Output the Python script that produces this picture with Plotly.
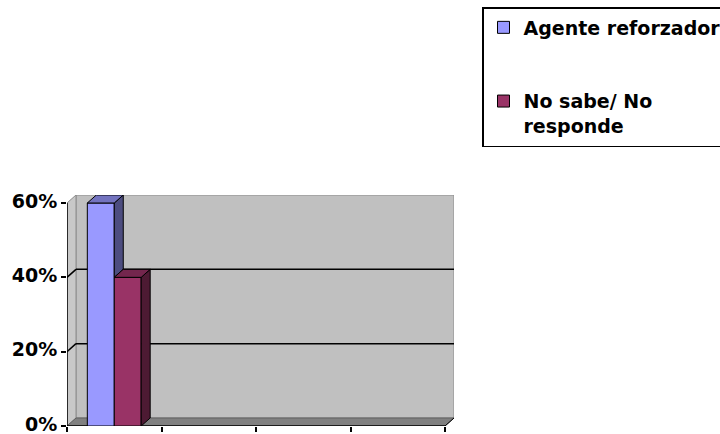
import plotly.graph_objects as go

# ---- data -------------------------------------------------------------
categories = ["Grupo 1", "Grupo 2", "Grupo 3", "Grupo 4"]
series_names = ["Agente reforzador", "No sabe/ No<br>responde"]
agente_reforzador = [0.60, None, None, None]
no_sabe_no_responde = [0.40, None, None, None]
y_tick_values = [0, 0.2, 0.4, 0.6]
y_tick_labels = ["0%", "20%", "40%", "60%"]

series_values = [agente_reforzador, no_sabe_no_responde]
front_colors = ["#9999FF", "#993366"]
top_colors = ["#7373BF", "#73264D"]
side_colors = ["#4D4D80", "#4D1A33"]

# ---- geometry of the pseudo-3D frame (pixels) -------------------------
W, H = 720, 434
LEFT = 67            # front y axis
FRONT_RIGHT = 445    # end of front x axis
BOTTOM = 426         # 0 %
FRONT_TOP = 203      # top tick on the front axis
DEPTH_X, DEPTH_Y = 9, 8
BARGAP = 0.43

n_cat = len(categories)
y_max = max(y_tick_values)
px_per_x = (FRONT_RIGHT - LEFT) / n_cat
px_per_y = (BOTTOM - FRONT_TOP) / y_max
dx = DEPTH_X / px_per_x
dy = DEPTH_Y / px_per_y

plot_w = FRONT_RIGHT - LEFT + DEPTH_X
plot_h = BOTTOM - FRONT_TOP + DEPTH_Y
m_l, m_t = LEFT, FRONT_TOP - DEPTH_Y
m_r = W - m_l - plot_w
m_b = H - m_t - plot_h

x_pos = [i + 0.5 for i in range(n_cat)]

fig = go.Figure()
for s, (name, vals) in enumerate(zip(series_names, series_values)):
    fig.add_trace(go.Bar(
        x=x_pos, y=vals, name=name, legendgroup=f"g{s}",
        marker=dict(color=front_colors[s], line=dict(color="black", width=1)),
        hoverinfo="skip",
    ))

shapes = []


def poly(pts, fill, line_color="black", width=1, layer="above"):
    d = "M " + " L ".join(f"{x},{y}" for x, y in pts) + " Z"
    return dict(type="path", path=d, xref="x", yref="y", fillcolor=fill,
                line=dict(color=line_color, width=width), layer=layer)


def seg(x0, y0, x1, y1, color="black", width=1.5, layer="below"):
    return dict(type="line", x0=x0, y0=y0, x1=x1, y1=y1, xref="x", yref="y",
                line=dict(color=color, width=width), layer=layer)


# walls and floor
shapes.append(poly([(dx, dy), (n_cat + dx, dy), (n_cat + dx, y_max + dy), (dx, y_max + dy)],
                   "#C0C0C0", "#8C8C8C", 1, "below"))
shapes.append(poly([(0, 0), (dx, dy), (dx, y_max + dy), (0, y_max)],
                   "#C8C8C8", "#8C8C8C", 1, "below"))
shapes.append(poly([(0, 0), (n_cat, 0), (n_cat + dx, dy), (dx, dy)],
                   "#808080", "#606060", 1, "below"))

# gridlines on back and side walls
for t in y_tick_values[1:-1]:
    shapes.append(seg(dx, t + dy, n_cat + dx, t + dy))
    shapes.append(seg(0, t, dx, t + dy))

# front axis edges
shapes.append(seg(0, 0, 0, y_max))
shapes.append(seg(0, 0, n_cat, 0))
shapes.append(seg(n_cat, 0, n_cat + dx, dy, width=1))

# top and side faces of the bars
group_w = 1 - BARGAP
n_ser = len(series_values)
bar_w = group_w / n_ser
for i in range(n_cat):
    for s in range(n_ser):
        v = series_values[s][i]
        if v is None:
            continue
        left = x_pos[i] - group_w / 2 + s * bar_w
        right = left + bar_w
        nxt = series_values[s + 1][i] if s + 1 < n_ser else None
        base = nxt if nxt is not None else 0
        if base < v:
            shapes.append(poly([(right, base), (right + dx, base + dy),
                                (right + dx, v + dy), (right, v)], side_colors[s]))
        shapes.append(poly([(left, v), (right, v), (right + dx, v + dy),
                            (left + dx, v + dy)], top_colors[s]))

font = dict(family="DejaVu Sans", size=19, color="black", weight="bold")

fig.update_layout(
    width=W, height=H,
    margin=dict(l=m_l, r=m_r, t=m_t, b=m_b, autoexpand=False),
    paper_bgcolor="white", plot_bgcolor="rgba(0,0,0,0)",
    barmode="group", bargap=BARGAP, bargroupgap=0,
    shapes=shapes,
    font=font,
    showlegend=True,
    legend=dict(
        x=(482 - m_l) / plot_w, xanchor="left",
        y=(H - m_b - 7) / plot_h, yanchor="top",
        bordercolor="black", borderwidth=1.5, bgcolor="white",
        font=font, valign="top", traceorder="grouped", tracegroupgap=46,
    ),
    xaxis=dict(range=[0, n_cat + dx], tickvals=list(range(n_cat + 1)),
               showticklabels=False, ticks="outside", ticklen=5,
               tickcolor="black", tickwidth=1.5, showgrid=False,
               zeroline=False, showline=False, fixedrange=True),
    yaxis=dict(range=[0, y_max + dy], tickvals=y_tick_values,
               ticktext=y_tick_labels, ticks="outside", ticklen=5,
               tickcolor="black", tickwidth=1.5, showgrid=False,
               zeroline=False, showline=False, tickfont=font,
               ticklabeloverflow="allow", ticklabelshift=-2, fixedrange=True),
)

fig.write_html("out.html", config={"displayModeBar": False})
